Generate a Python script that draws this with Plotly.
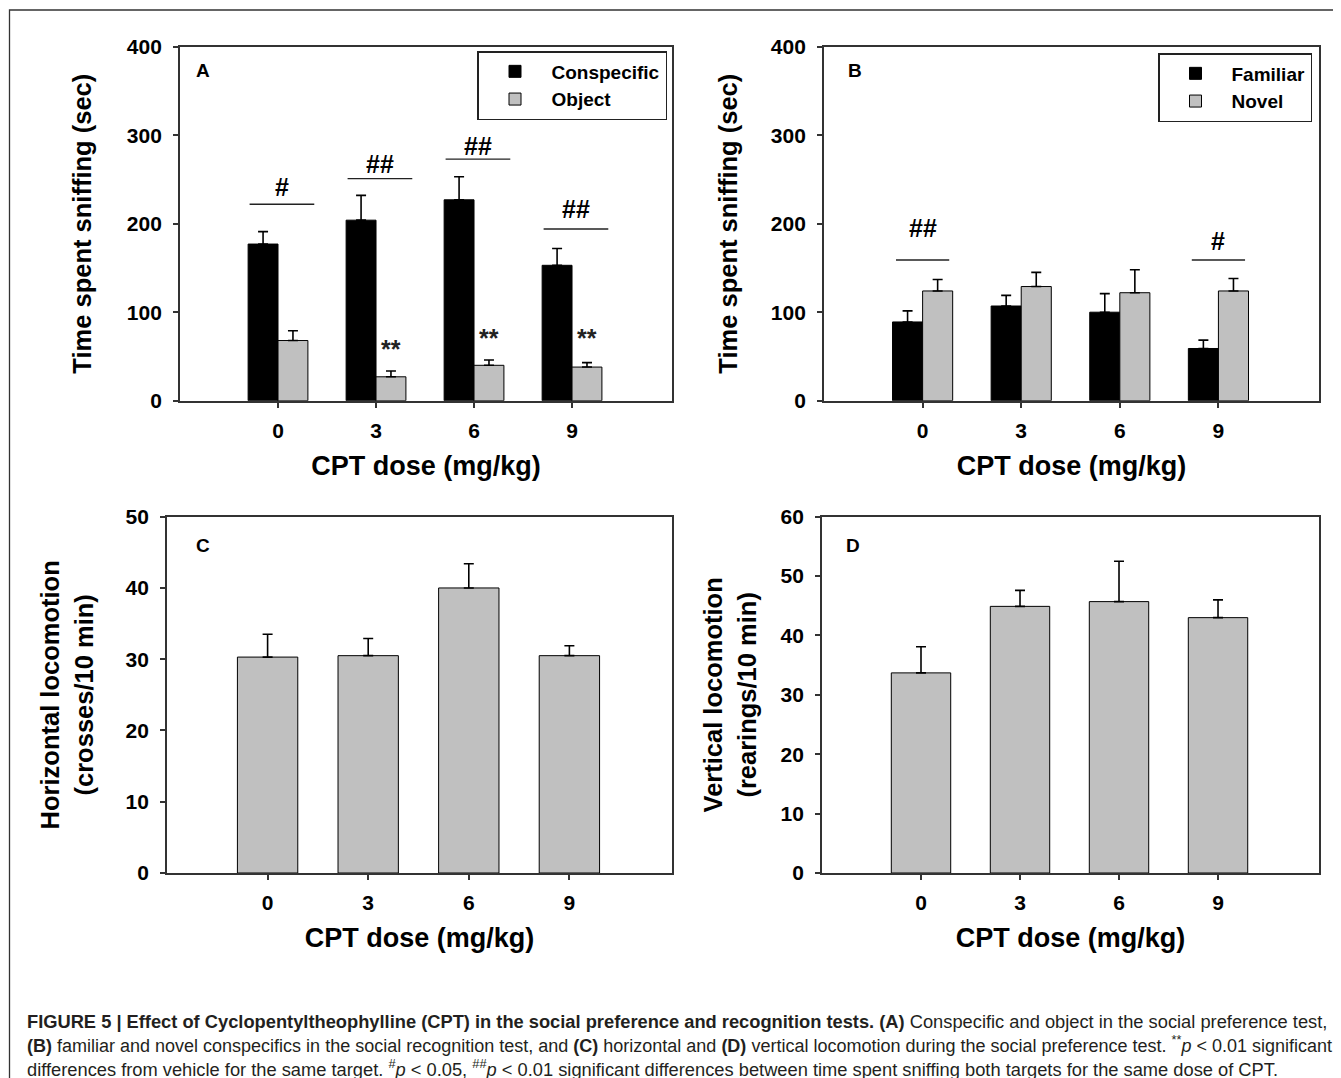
import plotly.graph_objects as go

# ---------------- data ----------------
doses = ["0", "3", "6", "9"]

# Panel A: social preference
conspecific_mean = [177, 204, 227, 153]
conspecific_sem = [14, 28, 26, 19]
object_mean = [68, 27, 40, 38]
object_sem = [11, 6.5, 6, 5]
a_sig_labels = ["#", "##", "##", "##"]
a_sig_height = [222, 251, 273, 194]
a_label_y = [242, 268, 288, 217]
a_star_labels = ["", "**", "**", "**"]
a_star_y = [None, 58, 71, 71]

# Panel B: social recognition
familiar_mean = [89, 107, 100, 59]
familiar_sem = [12.5, 12, 21, 9.5]
novel_mean = [124, 129, 122, 124]
novel_sem = [13, 16, 26, 14]
b_sig_labels = ["##", "", "", "#"]
b_sig_height = [159, None, None, 159]
b_label_y = [195, None, None, 181]

# Panel C / D: locomotion
horizontal_mean = [30.3, 30.5, 40.0, 30.5]
horizontal_sem = [3.2, 2.4, 3.4, 1.4]
vertical_mean = [33.7, 44.9, 45.7, 43.0]
vertical_sem = [4.4, 2.7, 6.8, 3.0]

# ---------------- styling ----------------
W, H = 1341, 1078
OFF = 8  # page body margin
FONT = "Liberation Sans, Arial, Helvetica, sans-serif"
BLACK = "#000000"
GRAY = "#c0c0c0"
pos = list(range(len(doses)))
BAR_W = 0.305


def px_x(p):
    return (p - OFF) / W


def px_y(p):
    return 1 - (p - OFF) / H


fig = go.Figure()


def err(arr):
    return dict(type="data", array=arr, arrayminus=[0] * len(arr), symmetric=False,
                color="black", thickness=1.6, width=5)


# Panel A
fig.add_trace(go.Bar(x=pos, y=conspecific_mean, name="Conspecific", marker=dict(color=BLACK, line=dict(color="black", width=1)),
                     error_y=err(conspecific_sem), xaxis="x", yaxis="y", legend="legend", offsetgroup="a1"))
fig.add_trace(go.Bar(x=pos, y=object_mean, name="Object", marker=dict(color=GRAY, line=dict(color="black", width=1)),
                     error_y=err(object_sem), xaxis="x", yaxis="y", legend="legend", offsetgroup="a2"))
# Panel B
fig.add_trace(go.Bar(x=pos, y=familiar_mean, name="Familiar", marker=dict(color=BLACK, line=dict(color="black", width=1)),
                     error_y=err(familiar_sem), xaxis="x2", yaxis="y2", legend="legend2", offsetgroup="b1"))
fig.add_trace(go.Bar(x=pos, y=novel_mean, name="Novel", marker=dict(color=GRAY, line=dict(color="black", width=1)),
                     error_y=err(novel_sem), xaxis="x2", yaxis="y2", legend="legend2", offsetgroup="b2"))
# Panel C
fig.add_trace(go.Bar(x=pos, y=horizontal_mean, name="Horizontal", marker=dict(color=GRAY, line=dict(color="black", width=1)),
                     error_y=err(horizontal_sem), xaxis="x3", yaxis="y3", showlegend=False, width=0.6))
# Panel D
fig.add_trace(go.Bar(x=pos, y=vertical_mean, name="Vertical", marker=dict(color=GRAY, line=dict(color="black", width=1)),
                     error_y=err(vertical_sem), xaxis="x4", yaxis="y4", showlegend=False, width=0.6))

shapes = []
annotations = []

# significance lines & labels A
for p, lab, h, ty in zip(pos, a_sig_labels, a_sig_height, a_label_y):
    if lab and h is not None:
        shapes.append(dict(type="line", xref="x", yref="y", x0=p - 0.29, x1=p + 0.37, y0=h, y1=h,
                           line=dict(color="#222", width=1.3)))
        annotations.append(dict(xref="x", yref="y", x=p + 0.04, y=ty, text="<b>%s</b>" % lab, showarrow=False,
                                yanchor="middle", font=dict(size=25, family=FONT, color="black")))
for p, lab, ty in zip(pos, a_star_labels, a_star_y):
    if lab and ty is not None:
        annotations.append(dict(xref="x", yref="y", x=p + BAR_W / 2, y=ty, text="<b>%s</b>" % lab, showarrow=False,
                                yanchor="middle", font=dict(size=25, family=FONT, color="#222")))
# significance B
for p, lab, h, ty in zip(pos, b_sig_labels, b_sig_height, b_label_y):
    if lab and h is not None:
        shapes.append(dict(type="line", xref="x2", yref="y2", x0=p - 0.27, x1=p + 0.27, y0=h, y1=h,
                           line=dict(color="#222", width=1.3)))
        annotations.append(dict(xref="x2", yref="y2", x=p, y=ty, text="<b>%s</b>" % lab, showarrow=False,
                                yanchor="middle", font=dict(size=25, family=FONT, color="black")))

# panel letters
for letter, xr, yr, lx, ly in [("A", "x domain", "y domain", 0.047, 0.934),
                               ("B", "x2 domain", "y2 domain", 0.063, 0.934),
                               ("C", "x3 domain", "y3 domain", 0.071, 0.92),
                               ("D", "x4 domain", "y4 domain", 0.062, 0.92)]:
    annotations.append(dict(xref=xr, yref=yr, x=lx, y=ly, text="<b>%s</b>" % letter, showarrow=False,
                            xanchor="center", yanchor="middle", font=dict(size=19, family=FONT, color="black")))

# caption
cap_lines = [
    "<b>FIGURE 5 | Effect of Cyclopentyltheophylline (CPT) in the social preference and recognition tests. (A)</b> Conspecific and object in the social preference test,",
    "<b>(B)</b> familiar and novel conspecifics in the social recognition test, and <b>(C)</b> horizontal and <b>(D)</b> vertical locomotion during the social preference test. <sup>**</sup><i>p</i> &lt; 0.01 significant",
    "differences from vehicle for the same target. <sup>#</sup><i>p</i> &lt; 0.05, <sup>##</sup><i>p</i> &lt; 0.01 significant differences between time spent sniffing both targets for the same dose of CPT.",
]
cap_sizes = [18.3, 18, 18.3]
for i, line in enumerate(cap_lines):
    annotations.append(dict(xref="paper", yref="paper", x=px_x(25), y=px_y(1021 + 23.5 * i), text=line,
                            showarrow=False, xanchor="left", yanchor="middle", align="left",
                            font=dict(size=cap_sizes[i], family=FONT, color="#231f20")))

# outer frame
shapes.append(dict(type="rect", xref="paper", yref="paper", x0=px_x(9.5), x1=1.02, y0=-0.02, y1=px_y(10),
                   line=dict(color="#333", width=1.3), fillcolor="rgba(0,0,0,0)"))

tickfont = dict(size=21, family=FONT, color="black", weight="bold")
xtitlefont = dict(size=27, family=FONT, color="black", weight="bold")
ytitlefont = dict(size=25.5, family=FONT, color="black", weight="bold")


def xax(dom, anchor):
    return dict(domain=dom, anchor=anchor, range=[-1, 4.02], tickmode="array", tickvals=pos, ticktext=doses,
                showline=True, linecolor="#333", linewidth=1.8, mirror=True, ticks="outside", ticklen=5,
                tickcolor="#333", tickwidth=1.5, showgrid=False, zeroline=False, tickfont=tickfont,
                ticklabelstandoff=5, automargin=False,
                title=dict(text="CPT dose (mg/kg)", font=xtitlefont, standoff=15), fixedrange=True)


def yax(dom, anchor, rng, dt, title, standoff):
    return dict(domain=dom, anchor=anchor, range=rng, dtick=dt, tick0=0, showline=True, linecolor="#333",
                linewidth=1.8, mirror=True, ticks="outside", ticklen=5, tickcolor="#333", tickwidth=1.5,
                showgrid=False, zeroline=False, tickfont=tickfont, ticklabelstandoff=7, automargin=False,
                title=dict(text=title, font=ytitlefont, standoff=standoff), fixedrange=True)


yA = [px_y(400.7), px_y(46.7)]
yC = [px_y(873), px_y(516.7)]

legend_font = dict(size=19, family=FONT, color="black", weight="bold")

fig.update_layout(
    width=W, height=H, margin=dict(l=0, r=0, t=0, b=0, autoexpand=False),
    paper_bgcolor="white", plot_bgcolor="white",
    font=dict(family=FONT, color="black"),
    barmode="group", bargap=0.39, bargroupgap=0,
    showlegend=True,
    xaxis=xax([px_x(180), px_x(672)], "y"),
    yaxis=yax(yA, "x", [0, 400], 100, "Time spent sniffing (sec)", 28),
    xaxis2=xax([px_x(824), px_x(1319)], "y2"),
    yaxis2=yax(yA, "x2", [0, 400], 100, "Time spent sniffing (sec)", 26),
    xaxis3=xax([px_x(167), px_x(672)], "y3"),
    yaxis3=yax(yC, "x3", [0, 50], 10, "Horizontal locomotion<br>(crosses/10 min)", 25),
    xaxis4=xax([px_x(822), px_x(1319)], "y4"),
    yaxis4=yax(yC, "x4", [0, 60], 10, "Vertical locomotion<br>(rearings/10 min)", 17),
    legend=dict(x=px_x(667), xanchor="right", y=px_y(51), yanchor="top", bordercolor="#222", borderwidth=1.5,
                bgcolor="white", font=legend_font, itemwidth=63, tracegroupgap=0),
    legend2=dict(x=px_x(1312), xanchor="right", y=px_y(53), yanchor="top", bordercolor="#222", borderwidth=1.5,
                 bgcolor="white", font=legend_font, itemwidth=62, tracegroupgap=0),
    shapes=shapes, annotations=annotations,
)

fig.write_html("out.html")
